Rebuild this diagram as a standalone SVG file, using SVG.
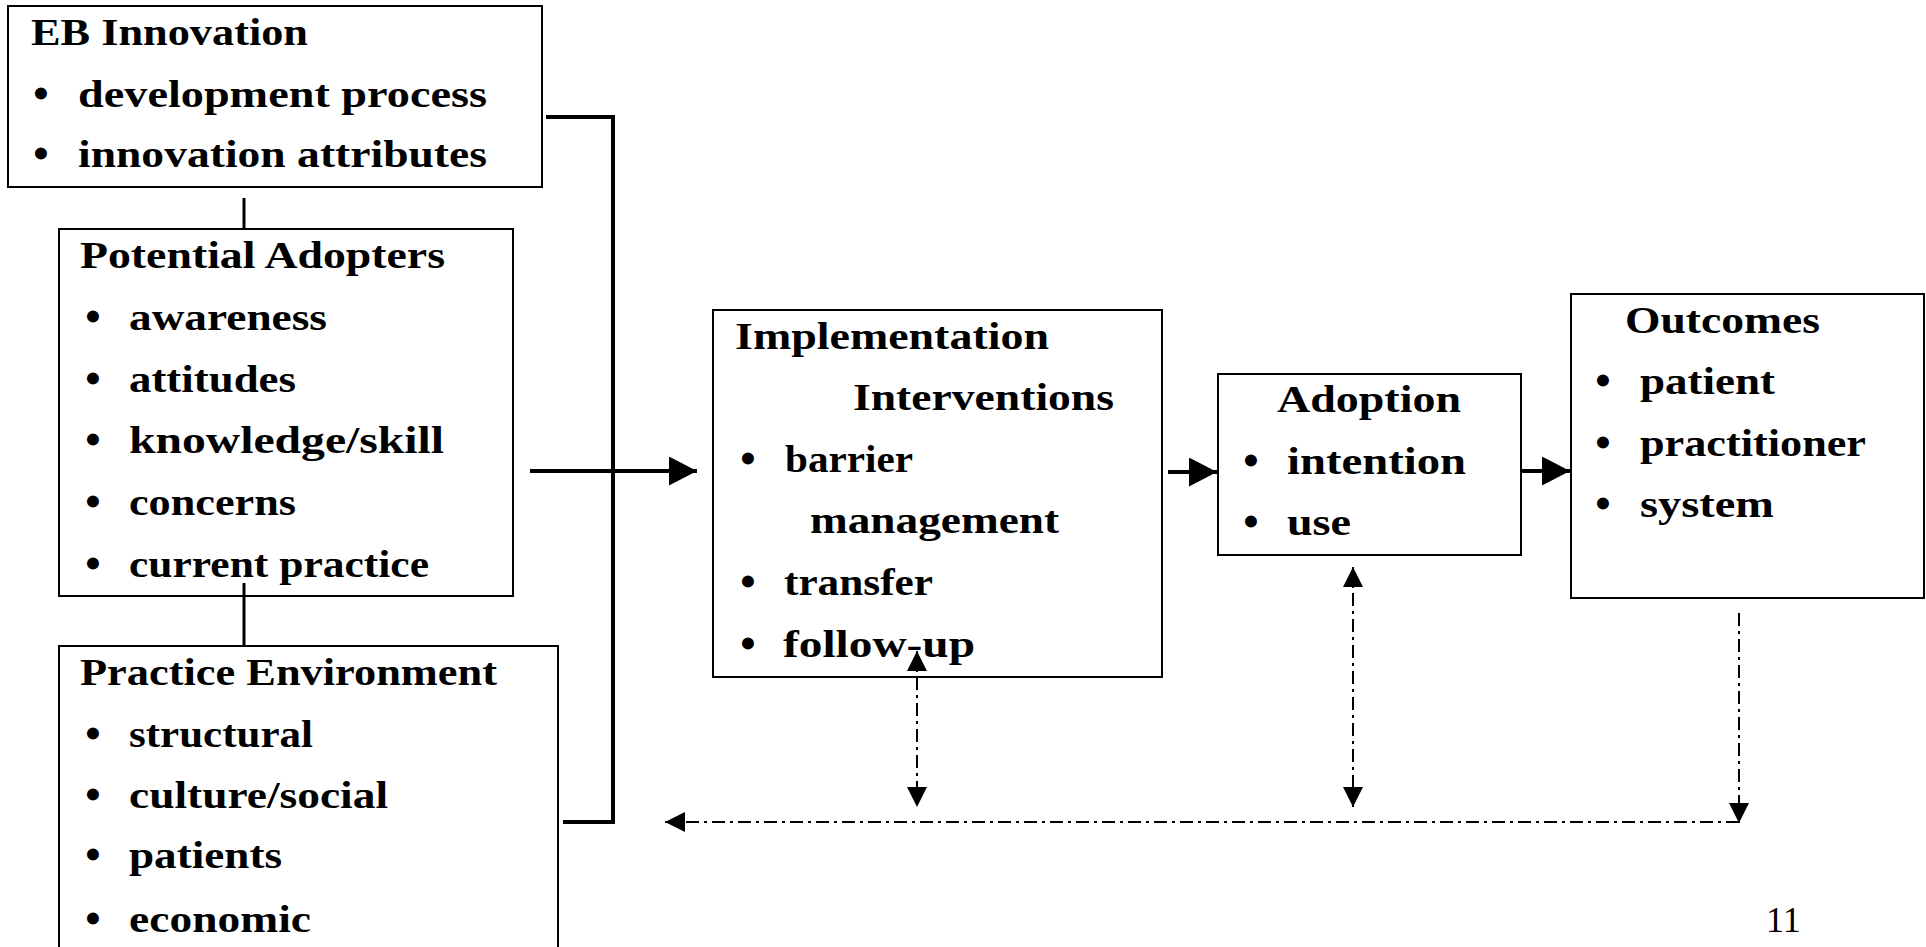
<svg xmlns="http://www.w3.org/2000/svg" width="1926" height="947" viewBox="0 0 1926 947">
<style>
.box{fill:#fff;stroke:#000;stroke-width:2}
.t{font-family:"Liberation Serif","Times New Roman",serif;font-weight:bold;font-size:38px;fill:#000}
.b{font-family:"Liberation Serif","Times New Roman",serif;font-weight:bold;font-size:44px;fill:#000;text-anchor:middle}
.thin{stroke:#000;stroke-width:3;fill:none}
.thick{stroke:#000;stroke-width:4;fill:none}
.dd{stroke:#000;stroke-width:2;fill:none;stroke-dasharray:13,5,3,5}
.pg{font-family:"Liberation Serif","Times New Roman",serif;font-size:36px;fill:#000}
</style>
<defs>
<marker id="big" viewBox="0 0 28 29" refX="28" refY="14.5" markerWidth="28" markerHeight="29" markerUnits="userSpaceOnUse" orient="auto">
<path d="M0,0 L28,14.5 L0,29 z" fill="#000"/>
</marker>
<marker id="sm" viewBox="0 0 20 20" refX="20" refY="10" markerWidth="20" markerHeight="20" markerUnits="userSpaceOnUse" orient="auto-start-reverse">
<path d="M0,0 L20,10 L0,20 z" fill="#000"/>
</marker>
</defs>
<rect width="1926" height="947" fill="#fff"/>

<g id="eb-innovation">
<rect class="box" x="8" y="6" width="534" height="181"/>
<text class="t" x="31" y="45" textLength="277" lengthAdjust="spacingAndGlyphs">EB Innovation</text>
<text class="b" x="41" y="108">•</text>
<text class="t" x="78" y="107" textLength="409" lengthAdjust="spacingAndGlyphs">development process</text>
<text class="b" x="41" y="168">•</text>
<text class="t" x="78" y="167" textLength="409" lengthAdjust="spacingAndGlyphs">innovation attributes</text>
</g>

<g id="potential-adopters">
<rect class="box" x="59" y="229" width="454" height="367"/>
<text class="t" x="80" y="268" textLength="365" lengthAdjust="spacingAndGlyphs">Potential Adopters</text>
<text class="b" x="93" y="331">•</text>
<text class="t" x="129" y="330" textLength="198" lengthAdjust="spacingAndGlyphs">awareness</text>
<text class="b" x="93" y="393">•</text>
<text class="t" x="129" y="392" textLength="167" lengthAdjust="spacingAndGlyphs">attitudes</text>
<text class="b" x="93" y="454">•</text>
<text class="t" x="129" y="453" textLength="315" lengthAdjust="spacingAndGlyphs">knowledge/skill</text>
<text class="b" x="93" y="516">•</text>
<text class="t" x="129" y="515" textLength="167" lengthAdjust="spacingAndGlyphs">concerns</text>
<text class="b" x="93" y="578">•</text>
<text class="t" x="129" y="577" textLength="300" lengthAdjust="spacingAndGlyphs">current practice</text>
</g>

<g id="practice-environment">
<rect class="box" x="59" y="646" width="499" height="360"/>
<text class="t" x="80" y="685" textLength="417" lengthAdjust="spacingAndGlyphs">Practice Environment</text>
<text class="b" x="93" y="748">•</text>
<text class="t" x="129" y="747" textLength="184" lengthAdjust="spacingAndGlyphs">structural</text>
<text class="b" x="93" y="809">•</text>
<text class="t" x="129" y="808" textLength="259" lengthAdjust="spacingAndGlyphs">culture/social</text>
<text class="b" x="93" y="869">•</text>
<text class="t" x="129" y="868" textLength="153" lengthAdjust="spacingAndGlyphs">patients</text>
<text class="b" x="93" y="933">•</text>
<text class="t" x="129" y="932" textLength="182" lengthAdjust="spacingAndGlyphs">economic</text>
</g>

<g id="implementation-interventions">
<rect class="box" x="713" y="310" width="449" height="367"/>
<text class="t" x="735" y="349" textLength="314" lengthAdjust="spacingAndGlyphs">Implementation</text>
<text class="t" x="853" y="410" textLength="261" lengthAdjust="spacingAndGlyphs">Interventions</text>
<text class="b" x="748" y="473">•</text>
<text class="t" x="785" y="472" textLength="128" lengthAdjust="spacingAndGlyphs">barrier</text>
<text class="t" x="810" y="533" textLength="249" lengthAdjust="spacingAndGlyphs">management</text>
<text class="b" x="748" y="596">•</text>
<text class="t" x="784" y="595" textLength="149" lengthAdjust="spacingAndGlyphs">transfer</text>
<text class="b" x="748" y="658">•</text>
<text class="t" x="783" y="657" textLength="192" lengthAdjust="spacingAndGlyphs">follow-up</text>
</g>

<g id="adoption">
<rect class="box" x="1218" y="374" width="303" height="181"/>
<text class="t" x="1277" y="412" textLength="184" lengthAdjust="spacingAndGlyphs">Adoption</text>
<text class="b" x="1251" y="475">•</text>
<text class="t" x="1287" y="474" textLength="179" lengthAdjust="spacingAndGlyphs">intention</text>
<text class="b" x="1251" y="536">•</text>
<text class="t" x="1287" y="535" textLength="64" lengthAdjust="spacingAndGlyphs">use</text>
</g>

<g id="outcomes">
<rect class="box" x="1571" y="294" width="353" height="304"/>
<text class="t" x="1625" y="333" textLength="195" lengthAdjust="spacingAndGlyphs">Outcomes</text>
<text class="b" x="1603" y="395">•</text>
<text class="t" x="1640" y="394" textLength="135" lengthAdjust="spacingAndGlyphs">patient</text>
<text class="b" x="1603" y="457">•</text>
<text class="t" x="1640" y="456" textLength="226" lengthAdjust="spacingAndGlyphs">practitioner</text>
<text class="b" x="1603" y="518">•</text>
<text class="t" x="1640" y="517" textLength="134" lengthAdjust="spacingAndGlyphs">system</text>
</g>

<g id="connectors">
<line class="thin" x1="244" y1="198" x2="244" y2="229"/>
<line class="thin" x1="244" y1="583" x2="244" y2="646"/>
<path class="thick" d="M546,117 H613 V822 H563"/>
<path class="thick" d="M530,471 H697" marker-end="url(#big)"/>
<path class="thick" d="M1168,472 H1217" marker-end="url(#big)"/>
<path class="thick" d="M1521,471 H1570" marker-end="url(#big)"/>
<path class="dd" d="M917,651 V807" marker-start="url(#sm)" marker-end="url(#sm)"/>
<path class="dd" d="M1353,567 V807" marker-start="url(#sm)" marker-end="url(#sm)"/>
<path class="dd" d="M1739,613 V823" marker-end="url(#sm)"/>
<path class="dd" d="M1739,822 H665" marker-end="url(#sm)"/>
</g>

<text class="pg" x="1766" y="932">11</text>
</svg>
